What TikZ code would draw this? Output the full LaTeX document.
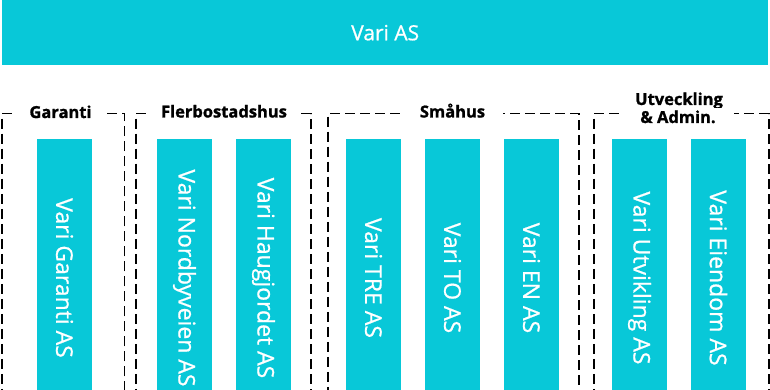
\documentclass[tikz,border=0pt]{standalone}
\usepackage{fontspec}
\setmainfont{Open Sans}
\newfontfamily\ttlfont{Open Sans}[BoldFeatures={FakeBold=1.2}]
\newfontfamily\cofont{Open Sans}[FakeBold=0.8]
\definecolor{vcyan}{RGB}{8,200,216}
\begin{document}
\begin{tikzpicture}[x=1pt,y=-1pt,
 topbar/.style={fill=vcyan, draw=none, inner sep=0pt, anchor=north west,
   minimum width=766pt, minimum height=65pt, text=white,
   font=\cofont\fontsize{21}{24}\selectfont},
 grp/.style={draw=black, line width=1.5pt, dash pattern=on 10pt off 5pt,
   inner sep=0pt, anchor=north west, minimum height=320pt},
 ttl/.style={fill=white, font=\ttlfont\bfseries\fontsize{16.5}{19}\selectfont,
   inner xsep=12pt, inner ysep=2pt, anchor=base},
 co/.style={fill=vcyan, draw=none, text=white, rotate=-90, inner sep=0pt,
   minimum width=278pt, minimum height=55pt,
   font=\cofont\fontsize{23}{26}\selectfont}
]
\useasboundingbox (0,0) rectangle (770,390);
\clip (0,0) rectangle (770,390);
\fill[white] (0,0) rectangle (770,390);

\node[topbar] (top) at (2,0) {Vari AS};

% groups
\node[grp, minimum width=122.5pt] (g1) at (1,113) {};
\node[grp, minimum width=175pt] (g2) at (135,113) {};
\node[grp, minimum width=251pt] (g3) at (327,113) {};
\node[grp, minimum width=175pt] (g4) at (593,113) {};

% titles
\node[ttl] (t1) at (60.5,118) {Garanti};
\node[ttl] (t2) at (224,117.5) {Flerbostadshus};
\node[ttl, inner xsep=18pt] (t3) at (452.5,117.5) {Småhus};
\node[ttl, inner xsep=4pt] (t4a) at (679,105) {Utveckling};
\node[ttl, inner xsep=18pt] (t4b) at (678,123) {\& Admin.};

% companies
\node[co] (c1) at (64.5,278) {Vari Garanti AS};
\node[co] (c2) at (184.5,278) {Vari Nordbyveien AS};
\node[co] (c3) at (263.5,278) {Vari Haugjordet AS};
\node[co] (c4) at (373.5,278) {Vari TRE AS};
\node[co] (c5) at (452.5,278) {Vari TO AS};
\node[co] (c6) at (531.5,278) {Vari EN AS};
\node[co] (c7) at (639.5,278) {Vari Utvikling AS};
\node[co] (c8) at (718.5,278) {Vari Eiendom AS};
\end{tikzpicture}
\end{document}
